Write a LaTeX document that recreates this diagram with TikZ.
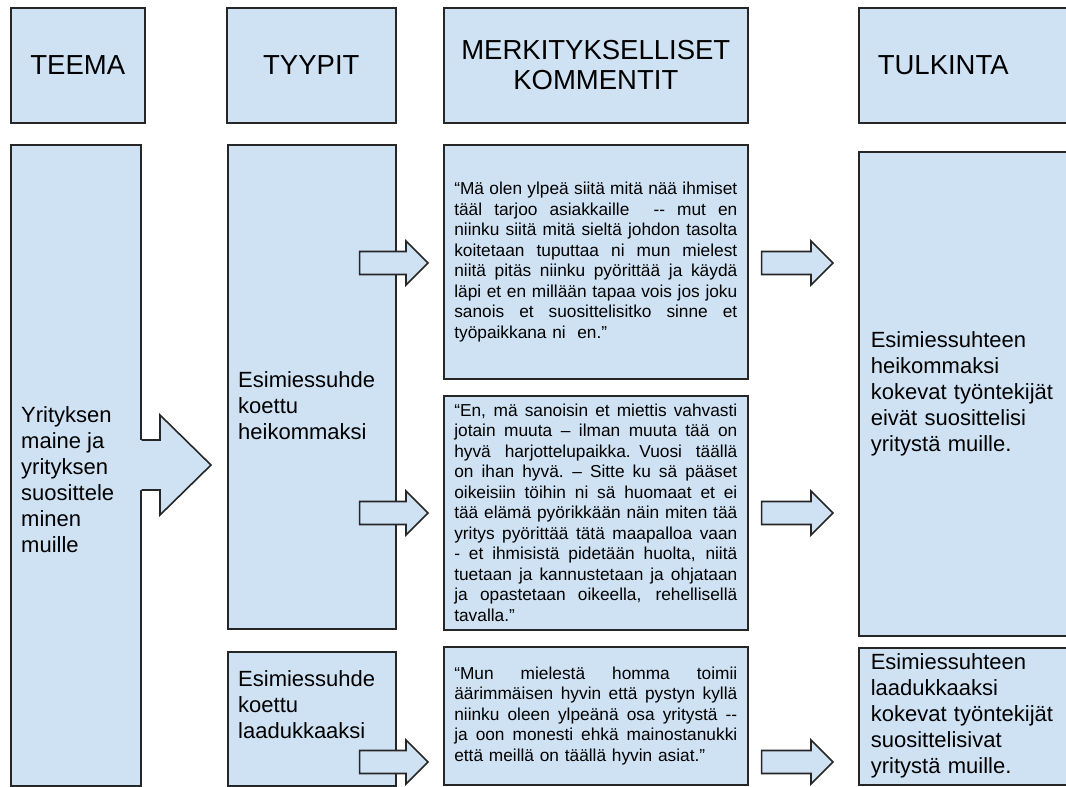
\documentclass[tikz,border=0pt]{standalone}
\usepackage{fontspec}
\setmainfont{Liberation Sans}
\usetikzlibrary{calc}

\definecolor{boxblue}{HTML}{CFE2F3}
\definecolor{boxline}{HTML}{262626}

\tikzset{
  box/.style={draw=boxline, fill=boxblue, line width=1.6pt, anchor=north west, inner sep=0pt},
  headfont/.style={font=\fontsize{27.5}{30}\selectfont, align=center},
  bodyfont/.style={font=\fontsize{22}{26}\selectfont, align=left},
  quotefont/.style={font=\fontsize{17.3}{20.5}\selectfont, align=left, text width=283pt, inner xsep=10.5pt},
  arrowshape/.style={draw=boxline, fill=boxblue, line width=1.6pt}
}

% one justified line of a quote
\newcommand{\qline}[1]{\leavevmode\hbox to 283pt{\spaceskip=\fontdimen2\font plus 1fil\relax #1}}

% block arrow from start point to tip
\newcommand{\blockarrow}[2]{%
  \draw[arrowshape] let \p1=(#1), \p2=(#2) in
    (\x1,\y1+11.5pt) -- (\x2-22pt,\y1+11.5pt) -- (\x2-22pt,\y1+22pt)
    -- (\x2,\y1) -- (\x2-22pt,\y1-22pt) -- (\x2-22pt,\y1-11.5pt)
    -- (\x1,\y1-11.5pt) -- cycle;}

\begin{document}
\begin{tikzpicture}[x=1pt,y=-1pt]
  \useasboundingbox (0,0) rectangle (1066,787);

  % headers
  \node[box, headfont, minimum width=134, minimum height=115] (hTeema) at (10,7) {TEEMA};
  \node[box, headfont, minimum width=169, minimum height=115] (hTyypit) at (226,7) {TYYPIT};
  \node[box, headfont, minimum width=304, minimum height=115] (hMerk) at (443,7) {MERKITYKSELLISET\\KOMMENTIT};
  \node[box, headfont, align=left, text width=182pt, inner xsep=19pt, minimum height=115] (hTulk) at (858,7) {TULKINTA};

  % theme and types
  \node[box, minimum width=130, minimum height=641] (teema) at (10,144) {};
  \node[box, minimum width=168, minimum height=484] (type1) at (227,144) {};
  \node[box, minimum width=168, minimum height=134] (type2) at (227,651) {};

  \node[bodyfont, anchor=west, inner sep=0pt] (teemaTxt) at ($(teema.west)+(11,14)$)
    {Yrityksen\\maine ja\\yrityksen\\suosittele\\minen\\muille};
  \node[bodyfont, anchor=west, inner sep=0pt] (type1Txt) at ($(type1.west)+(11,19)$)
    {Esimiessuhde\\koettu\\heikommaksi};
  \node[bodyfont, anchor=west, inner sep=0pt] (type2Txt) at ($(type2.west)+(11,-14)$)
    {Esimiessuhde\\koettu\\laadukkaaksi};

  % quotes
  \node[box, quotefont, minimum height=234] (q1) at (443,144) {%
    \qline{“Mä olen ylpeä siitä mitä nää ihmiset}\\
    \qline{tääl tarjoo asiakkaille\ \ -\kern0pt- mut en}\\
    \qline{niinku siitä mitä sieltä johdon tasolta}\\
    \qline{koitetaan tuputtaa ni mun mielest}\\
    \qline{niitä pitäs niinku pyörittää ja käydä}\\
    \qline{läpi et en millään tapaa vois jos joku}\\
    \qline{sanois et suosittelisitko sinne et}\\
    työpaikkana ni\ \ en.”};
  \node[box, quotefont, minimum height=234] (q2) at (443,395) {%
    \qline{“En, mä sanoisin et miettis vahvasti}\\
    \qline{jotain muuta – ilman muuta tää on}\\
    \qline{hyvä harjottelupaikka. Vuosi täällä}\\
    \qline{on ihan hyvä. – Sitte ku sä pääset}\\
    \qline{oikeisiin töihin ni sä huomaat et ei}\\
    \qline{tää elämä pyörikkään näin miten tää}\\
    \qline{yritys pyörittää tätä maapalloa vaan}\\
    \qline{- et ihmisistä pidetään huolta, niitä}\\
    \qline{tuetaan ja kannustetaan ja ohjataan}\\
    \qline{ja opastetaan oikeella, rehellisellä}\\
    tavalla.”};
  \node[box, quotefont, minimum height=138] (q3) at (443,646) {%
    \qline{“Mun mielestä homma toimii}\\
    \qline{äärimmäisen hyvin että pystyn kyllä}\\
    \qline{niinku oleen ylpeänä osa yritystä -\kern0pt-}\\
    \qline{ja oon monesti ehkä mainostanukki}\\
    että meillä on täällä hyvin asiat.”};

  % interpretations
  \node[box, bodyfont, text width=196pt, inner xsep=12pt, minimum height=484] (tulk1) at (858,151)
    {Esimiessuhteen\\heikommaksi\\kokevat työntekijät\\eivät suosittelisi\\yritystä muille.};
  \node[box, bodyfont, text width=196pt, inner xsep=12pt, minimum height=137] (tulk2) at (858,647)
    {Esimiessuhteen\\laadukkaaksi\\kokevat työntekijät\\suosittelisivat\\yritystä muille.};

  % big arrow out of the theme box
  \coordinate (bigS) at (teema.east |- 0,465);
  \coordinate (bigT) at ($(type1.west |- bigS)+(-16,0)$);
  \fill[boxblue] let \p1=(bigS), \p2=(bigT) in
    (\x1-3pt,\y1+25pt) -- (\x2-51pt,\y1+25pt) -- (\x2-51pt,\y1+50pt) -- (\x2,\y1)
    -- (\x2-51pt,\y1-50pt) -- (\x2-51pt,\y1-25pt) -- (\x1-3pt,\y1-25pt) -- cycle;
  \draw[arrowshape, fill=none] let \p1=(bigS), \p2=(bigT) in
    (\x1,\y1+25pt) -- (\x2-51pt,\y1+25pt) -- (\x2-51pt,\y1+50pt) -- (\x2,\y1)
    -- (\x2-51pt,\y1-50pt) -- (\x2-51pt,\y1-25pt) -- (\x1,\y1-25pt);

  % small arrows
  \coordinate (a1s) at ($(type1.east |- 0,263)+(-37,0)$);
  \coordinate (a1t) at ($(q1.west |- a1s)+(-15,0)$);
  \coordinate (a2s) at ($(type1.east |- 0,513)+(-37,0)$);
  \coordinate (a2t) at ($(q2.west |- a2s)+(-15,0)$);
  \coordinate (a3s) at ($(type2.east |- 0,762)+(-37,0)$);
  \coordinate (a3t) at ($(q3.west |- a3s)+(-15,0)$);
  \coordinate (b1s) at ($(q1.east |- a1s)+(13,0)$);
  \coordinate (b1t) at ($(tulk1.west |- a1s)+(-25,0)$);
  \coordinate (b2s) at ($(q2.east |- a2s)+(13,0)$);
  \coordinate (b2t) at ($(tulk1.west |- a2s)+(-25,0)$);
  \coordinate (b3s) at ($(q3.east |- a3s)+(13,0)$);
  \coordinate (b3t) at ($(tulk2.west |- a3s)+(-25,0)$);

  \blockarrow{a1s}{a1t}
  \blockarrow{a2s}{a2t}
  \blockarrow{a3s}{a3t}
  \blockarrow{b1s}{b1t}
  \blockarrow{b2s}{b2t}
  \blockarrow{b3s}{b3t}
\end{tikzpicture}
\end{document}
